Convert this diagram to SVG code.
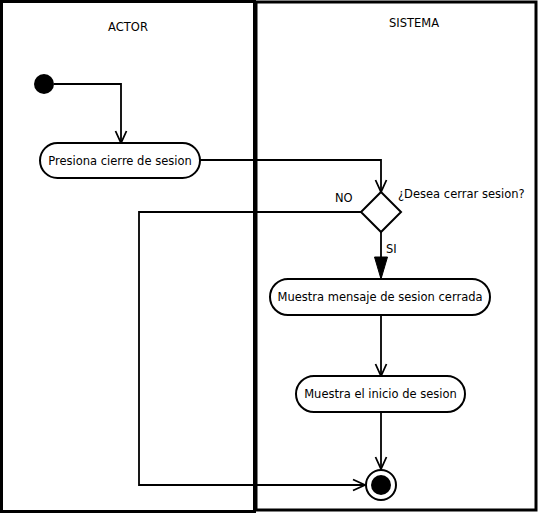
<svg xmlns="http://www.w3.org/2000/svg" width="538" height="514" viewBox="0 0 538 514">
<style>
.lane{fill:none;stroke:#000;stroke-width:3}
.act{fill:#fff;stroke:#000;stroke-width:2}
.t{font-family:"DejaVu Sans",Verdana,sans-serif;font-size:11.5px;fill:#000}
.c{text-anchor:middle}
.edge{fill:none;stroke:#000;stroke-width:1.8}
</style>
<defs>
<marker id="open" viewBox="-14 -8 16 16" markerWidth="16" markerHeight="16" refX="0" refY="0" orient="auto" markerUnits="userSpaceOnUse" overflow="visible">
<path d="M-12,-5.5 L0,0 L-12,5.5" fill="none" stroke="#000" stroke-width="1.8"/>
</marker>
<marker id="filled" viewBox="-24 -8 26 16" markerWidth="26" markerHeight="16" refX="0" refY="0" orient="auto" markerUnits="userSpaceOnUse" overflow="visible">
<path d="M-22,-6.5 L0,0 L-22,6.5 Z" fill="#000" stroke="#000" stroke-width="1"/>
</marker>
</defs>
<rect width="538" height="514" fill="#fff"/>
<g id="lane-actor">
<rect class="lane" x="1.5" y="1.5" width="253" height="510"/>
<text class="t c" x="128" y="31">ACTOR</text>
</g>
<g id="lane-sistema">
<rect class="lane" x="256" y="2" width="280" height="508"/>
<text class="t c" x="414" y="27">SISTEMA</text>
</g>
<g id="connectors">
<path class="edge" d="M54,84 H121 V143" marker-end="url(#open)"/>
<path class="edge" d="M200,160 H381 V192" marker-end="url(#open)"/>
<path class="edge" d="M361,212 H139 V485 H365" marker-end="url(#open)"/>
<path class="edge" d="M381,232 V279" marker-end="url(#filled)"/>
<path class="edge" d="M381,315 V376" marker-end="url(#open)"/>
<path class="edge" d="M381,412 V469" marker-end="url(#open)"/>
<text class="t" x="335" y="202">NO</text>
<text class="t" x="386" y="253">SI</text>
</g>
<g id="start">
<circle cx="44" cy="84" r="10" fill="#000"/>
</g>
<g id="presiona">
<rect class="act" x="40" y="143" width="160" height="35" rx="17.5"/>
<text class="t c" x="120" y="165">Presiona cierre de sesion</text>
</g>
<g id="decision">
<path d="M381,192 L401,212 L381,232 L361,212 Z" fill="#fff" stroke="#000" stroke-width="2"/>
<text class="t" x="398" y="198">¿Desea cerrar sesion?</text>
</g>
<g id="mensaje">
<rect class="act" x="270" y="279" width="220" height="36" rx="18"/>
<text class="t c" x="380" y="301">Muestra mensaje de sesion cerrada</text>
</g>
<g id="inicio">
<rect class="act" x="296" y="376" width="169" height="36" rx="18"/>
<text class="t c" x="380.5" y="398">Muestra el inicio de sesion</text>
</g>
<g id="end">
<circle cx="381" cy="485" r="15" fill="#fff" stroke="#000" stroke-width="2"/>
<circle cx="381" cy="485" r="10" fill="#000"/>
</g>
</svg>
